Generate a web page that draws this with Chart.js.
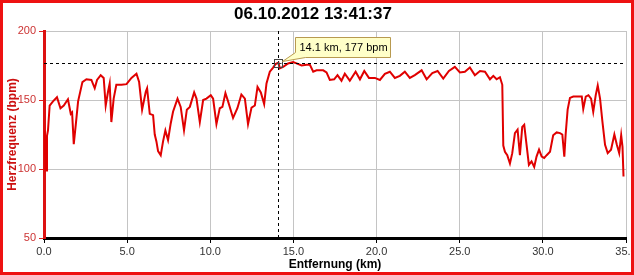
<!DOCTYPE html>
<html>
<head>
<meta charset="utf-8">
<script src="https://cdn.jsdelivr.net/npm/chart.js@4.4.1/dist/chart.umd.min.js"></script>
<style>
  html, body { margin: 0; padding: 0; background: #fff; }
  canvas { display: block; }
</style>
</head>
<body>
<canvas id="hrChart" width="634" height="275"></canvas>
<script>
const chartTitle = '06.10.2012 13:41:37';
const xTitle = 'Entfernung (km)';
const yTitle = 'Herzfrequenz (bpm)';

// distance (km) and heart rate (bpm)
const distanceKm = [
  0.00, 0.03, 0.06, 0.09, 0.12, 0.15, 0.18, 0.24, 0.34, 0.54, 0.78, 0.99, 1.19, 1.44, 1.61, 1.69, 1.79, 1.91,
  2.05, 2.31, 2.55, 2.85, 3.05, 3.19, 3.41, 3.59, 3.71, 3.85, 3.95, 4.05, 4.19, 4.35, 4.66, 4.96, 5.26, 5.56,
  5.72, 5.90, 6.12, 6.20, 6.36, 6.56, 6.66, 6.76, 6.86, 7.02, 7.16, 7.30, 7.46, 7.62, 7.76, 8.03, 8.22, 8.42,
  8.59, 8.77, 9.03, 9.17, 9.37, 9.57, 9.77, 10.03, 10.17, 10.37, 10.57, 10.73, 10.91, 11.07, 11.37, 11.63,
  11.87, 12.08, 12.27, 12.48, 12.68, 12.84, 13.04, 13.24, 13.38, 13.58, 13.78, 13.92, 14.10, 14.18, 14.38,
  14.68, 14.98, 15.19, 15.49, 15.79, 15.99, 16.19, 16.39, 16.79, 16.99, 17.19, 17.45, 17.65, 17.89, 18.09,
  18.39, 18.74, 19.00, 19.26, 19.54, 19.90, 20.20, 20.50, 20.80, 21.10, 21.40, 21.70, 22.00, 22.30, 22.71,
  23.01, 23.35, 23.67, 24.01, 24.35, 24.71, 25.01, 25.31, 25.61, 25.91, 26.22, 26.52, 26.82, 27.02, 27.22,
  27.42, 27.56, 27.62, 27.72, 27.86, 28.02, 28.16, 28.32, 28.48, 28.62, 28.76, 28.88, 29.02, 29.16, 29.32,
  29.48, 29.62, 29.77, 29.93, 30.08, 30.23, 30.43, 30.62, 30.83, 31.03, 31.17, 31.29, 31.37, 31.49, 31.63,
  31.83, 32.13, 32.34, 32.43, 32.58, 32.74, 32.90, 33.03, 33.18, 33.30, 33.44, 33.58, 33.74, 33.90, 34.10,
  34.30, 34.45, 34.59, 34.71, 34.79, 34.85
];
const heartRate = [
  125, 110, 128, 100, 122, 99, 124, 128, 146, 149, 152, 144, 146, 150.5, 140, 141, 118, 132,
  149, 163, 165, 164.5, 158.5, 164.5, 168, 166, 146, 156, 162, 134, 151, 161, 161, 161.5, 166, 169,
  163, 143, 156, 158.5, 140, 139, 125, 120, 113, 110, 120, 128, 121, 133, 141.5, 151, 145, 128,
  143, 145, 155.5, 151, 134, 150, 151, 153.5, 151, 132.5, 144, 145, 155, 149, 137, 144,
  154, 151, 132.5, 144.5, 146, 159.5, 155.5, 147, 162, 170.5, 173.5, 176, 177, 173, 174,
  176.5, 177.5, 176.5, 175, 175.5, 175.5, 170.5, 171.5, 171.5, 170, 164.5, 165, 168, 164, 169,
  164, 170.5, 165, 171, 166, 166, 164.5, 169, 170.5, 166, 167.5, 170.5, 166, 168, 171.5,
  165, 169.5, 171, 165.5, 171, 174, 170, 170.5, 173.5, 168, 171, 170.5, 165, 167.5, 165,
  166.5, 161, 117, 112.5, 110, 104, 111.5, 126, 128.5, 110, 130.5, 132, 117.5, 103, 105.5,
  101.5, 109, 114, 109, 108, 110, 112.5, 124.5, 126.5, 126, 125, 109, 125, 143, 151.5,
  152.5, 152.5, 152.5, 143.5, 152.5, 153.5, 151, 141.5, 153.5, 160.5, 151, 134.5, 117.5, 111.5, 114,
  125, 117.5, 111.5, 124.5, 116, 94.5
];
const xTicks = [0, 5, 10, 15, 20, 25, 30, 35];
const yTicks = [50, 100, 150, 200];

// highlighted point (crosshair + callout)
const markKm = 14.1;
const markBpm = 177;

const points = distanceKm.map((d, i) => ({ x: d, y: heartRate[i] }));

const frame = {
  id: 'frame',
  afterDraw(chart) {
    const ctx = chart.ctx;
    ctx.save();
    ctx.strokeStyle = '#ee1111';
    ctx.lineWidth = 3;
    ctx.strokeRect(1.5, 1.5, chart.width - 3, chart.height - 3);
    ctx.restore();
  }
};

const crosshair = {
  id: 'crosshair',
  afterDatasetsDraw(chart) {
    const { ctx, chartArea, scales } = chart;
    const px = Math.round(scales.x.getPixelForValue(markKm)) + 0.5;
    const py = Math.round(scales.y.getPixelForValue(markBpm)) + 0.5;
    ctx.save();
    ctx.strokeStyle = '#000';
    ctx.lineWidth = 1;
    ctx.setLineDash([3, 3]);
    ctx.beginPath();
    ctx.moveTo(px, chartArea.top);
    ctx.lineTo(px, chartArea.bottom);
    ctx.moveTo(chartArea.left, py);
    ctx.lineTo(chartArea.right, py);
    ctx.stroke();
    ctx.setLineDash([]);

    // marker box with plus
    ctx.strokeStyle = '#444';
    ctx.strokeRect(px - 4, py - 4, 8, 8);
    ctx.beginPath();
    ctx.moveTo(px - 2, py); ctx.lineTo(px + 3, py);
    ctx.moveTo(px, py - 2); ctx.lineTo(px, py + 3);
    ctx.stroke();

    // callout
    const bx = px + 17, by = py - 26, bw = 95, bh = 20;
    ctx.fillStyle = '#ffffc8';
    ctx.strokeStyle = '#b89a50';
    ctx.beginPath();
    ctx.moveTo(bx, by);
    ctx.lineTo(bx + bw, by);
    ctx.lineTo(bx + bw, by + bh);
    ctx.lineTo(bx + 10, by + bh);
    ctx.lineTo(px + 4, py - 2);
    ctx.lineTo(bx, by + bh - 5);
    ctx.closePath();
    ctx.fill();
    ctx.stroke();
    ctx.fillStyle = '#000';
    ctx.font = '11px "Liberation Sans", Arial, sans-serif';
    ctx.textBaseline = 'middle';
    ctx.fillText(markKm.toFixed(1) + ' km, ' + markBpm + ' bpm', bx + 4, by + bh / 2 + 0.5);
    ctx.restore();
  }
};

new Chart(document.getElementById('hrChart'), {
  type: 'line',
  data: {
    datasets: [{
      data: points,
      borderColor: '#e00000',
      borderWidth: 2,
      pointRadius: 0,
      tension: 0,
      fill: false
    }]
  },
  options: {
    responsive: false,
    devicePixelRatio: 1,
    animation: false,
    parsing: false,
    layout: { padding: { top: 0, right: 8, bottom: 0, left: 0 } },
    plugins: {
      legend: { display: false },
      tooltip: { enabled: false },
      title: {
        display: true,
        text: chartTitle,
        color: '#000',
        font: { family: '"Liberation Sans", Arial, sans-serif', size: 17, weight: 'bold', lineHeight: 1 },
        padding: { top: 6, bottom: 8 }
      }
    },
    scales: {
      x: {
        type: 'linear',
        min: 0,
        max: 35,
        afterBuildTicks: s => { s.ticks = xTicks.map(v => ({ value: v })); },
        afterFit: s => { s.height = 37; s.paddingLeft = 0; s.paddingRight = 0; },
        ticks: {
          color: '#333',
          padding: 2,
          maxRotation: 0,
          font: { family: '"Liberation Sans", Arial, sans-serif', size: 11 },
          callback: v => v.toFixed(1)
        },
        grid: { color: '#c4c4c4', tickColor: '#000', tickLength: 5 },
        border: { color: '#000', width: 3 },
        title: {
          display: true,
          text: xTitle,
          color: '#000',
          font: { family: '"Liberation Sans", Arial, sans-serif', size: 12, weight: 'bold' },
          padding: { top: 0, bottom: 3 }
        }
      },
      y: {
        min: 50,
        max: 200,
        afterBuildTicks: s => { s.ticks = yTicks.map(v => ({ value: v })); },
        afterFit: s => { s.width = 44; },
        ticks: {
          color: '#cc3333',
          padding: 3,
          font: { family: '"Liberation Sans", Arial, sans-serif', size: 11 }
        },
        grid: { color: '#c4c4c4', tickColor: '#dd2222', tickLength: 5 },
        border: { color: '#dd1111', width: 3 },
        title: {
          display: true,
          text: yTitle,
          color: '#cc1111',
          font: { family: '"Liberation Sans", Arial, sans-serif', size: 12, weight: 'bold' },
          padding: { top: 5, bottom: 0 }
        }
      }
    }
  },
  plugins: [crosshair, frame]
});
</script>
</body>
</html>
